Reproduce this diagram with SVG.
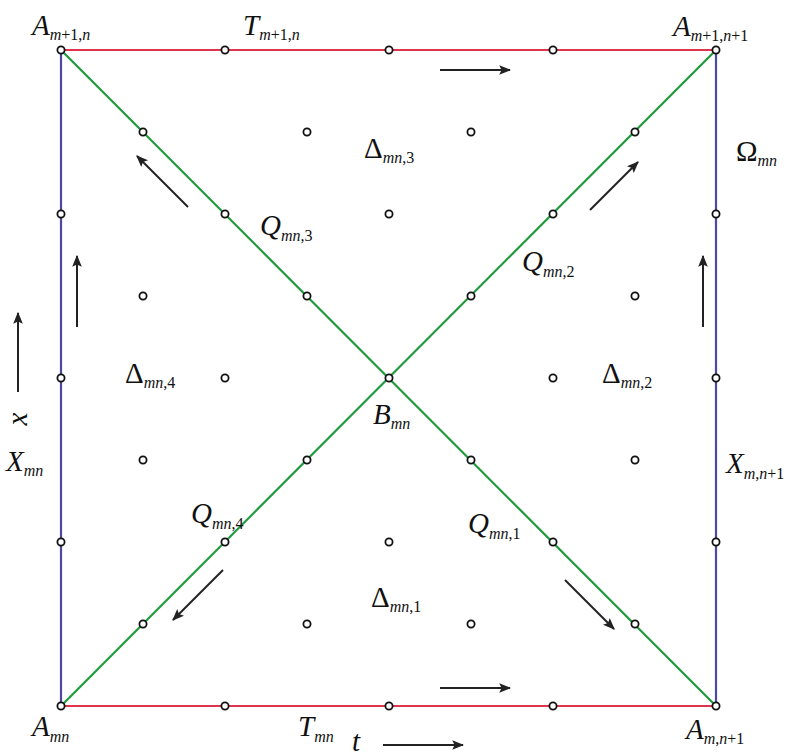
<svg xmlns="http://www.w3.org/2000/svg" width="796" height="756" viewBox="0 0 796 756">
<style>
.red{stroke:#e0344e;stroke-width:2.2;fill:none}
.blue{stroke:#4a4aa0;stroke-width:2.2;fill:none}
.green{stroke:#1f9a3c;stroke-width:2.2;fill:none}
.arr{stroke:#222;stroke-width:2;fill:none;marker-end:url(#ah)}
.pt{fill:#fff;stroke:#111;stroke-width:1.8}
.lb{font-family:"Liberation Serif",serif;font-style:italic;font-size:29px;fill:#111}
.up{font-style:normal}
.sb{font-size:16px}
</style>
<defs>
<marker id="ah" viewBox="0 0 10 10" refX="9" refY="5" markerWidth="6" markerHeight="6" orient="auto" markerUnits="strokeWidth">
<path d="M0,1 L10,5 L0,9 L2,5 z" fill="#222"/>
</marker>
</defs>
<rect width="796" height="756" fill="#fff"/>
<g id="connectors">
<line class="red" x1="61" y1="50" x2="716" y2="50"/>
<line class="red" x1="61" y1="706" x2="716" y2="706"/>
<line class="blue" x1="61" y1="50" x2="61" y2="706"/>
<line class="blue" x1="716" y1="50" x2="716" y2="706"/>
<line class="green" x1="61" y1="50" x2="716" y2="706"/>
<line class="green" x1="716" y1="50" x2="61" y2="706"/>
<line class="arr" x1="440" y1="70" x2="510" y2="70"/>
<line class="arr" x1="440" y1="688" x2="510" y2="688"/>
<line class="arr" x1="383" y1="745" x2="463" y2="745"/>
<line class="arr" x1="18" y1="392" x2="18" y2="313"/>
<line class="arr" x1="77" y1="327" x2="77" y2="256"/>
<line class="arr" x1="703" y1="327" x2="703" y2="256"/>
<line class="arr" x1="188" y1="207" x2="137" y2="156"/>
<line class="arr" x1="590" y1="210" x2="638" y2="162"/>
<line class="arr" x1="223" y1="570" x2="173" y2="620"/>
<line class="arr" x1="565" y1="580" x2="614" y2="629"/>
</g>
<g id="points">
<circle class="pt" cx="61" cy="50" r="3.6"/>
<circle class="pt" cx="225" cy="50" r="3.6"/>
<circle class="pt" cx="389" cy="50" r="3.6"/>
<circle class="pt" cx="553" cy="50" r="3.6"/>
<circle class="pt" cx="716" cy="50" r="3.6"/>
<circle class="pt" cx="61" cy="706" r="3.6"/>
<circle class="pt" cx="225" cy="706" r="3.6"/>
<circle class="pt" cx="389" cy="706" r="3.6"/>
<circle class="pt" cx="553" cy="706" r="3.6"/>
<circle class="pt" cx="716" cy="706" r="3.6"/>
<circle class="pt" cx="61" cy="214" r="3.6"/>
<circle class="pt" cx="61" cy="378" r="3.6"/>
<circle class="pt" cx="61" cy="542" r="3.6"/>
<circle class="pt" cx="716" cy="214" r="3.6"/>
<circle class="pt" cx="716" cy="378" r="3.6"/>
<circle class="pt" cx="716" cy="542" r="3.6"/>
<circle class="pt" cx="143" cy="132" r="3.6"/>
<circle class="pt" cx="225" cy="214" r="3.6"/>
<circle class="pt" cx="307" cy="296" r="3.6"/>
<circle class="pt" cx="389" cy="378" r="3.6"/>
<circle class="pt" cx="471" cy="460" r="3.6"/>
<circle class="pt" cx="553" cy="542" r="3.6"/>
<circle class="pt" cx="635" cy="624" r="3.6"/>
<circle class="pt" cx="635" cy="132" r="3.6"/>
<circle class="pt" cx="553" cy="214" r="3.6"/>
<circle class="pt" cx="471" cy="296" r="3.6"/>
<circle class="pt" cx="307" cy="460" r="3.6"/>
<circle class="pt" cx="225" cy="542" r="3.6"/>
<circle class="pt" cx="143" cy="624" r="3.6"/>
<circle class="pt" cx="307" cy="132" r="3.6"/>
<circle class="pt" cx="471" cy="132" r="3.6"/>
<circle class="pt" cx="389" cy="214" r="3.6"/>
<circle class="pt" cx="143" cy="296" r="3.6"/>
<circle class="pt" cx="225" cy="378" r="3.6"/>
<circle class="pt" cx="143" cy="460" r="3.6"/>
<circle class="pt" cx="635" cy="296" r="3.6"/>
<circle class="pt" cx="553" cy="378" r="3.6"/>
<circle class="pt" cx="635" cy="460" r="3.6"/>
<circle class="pt" cx="389" cy="542" r="3.6"/>
<circle class="pt" cx="307" cy="624" r="3.6"/>
<circle class="pt" cx="471" cy="624" r="3.6"/>
</g>
<g id="labels">
<text class="lb" x="32" y="35">A<tspan class="sb" dy="5">m<tspan class="up">+1,</tspan>n</tspan></text>
<text class="lb" x="243" y="35">T<tspan class="sb" dy="5">m<tspan class="up">+1,</tspan>n</tspan></text>
<text class="lb" x="673" y="36">A<tspan class="sb" dy="5">m<tspan class="up">+1,</tspan>n<tspan class="up">+1</tspan></tspan></text>
<text class="lb up" x="736" y="161">Ω<tspan class="sb" dy="5" style="font-style:italic">mn</tspan></text>
<text class="lb up" x="364" y="158">Δ<tspan class="sb" dy="5" style="font-style:italic">mn<tspan class="up">,3</tspan></tspan></text>
<text class="lb" x="260" y="235">Q<tspan class="sb" dy="6">mn<tspan class="up">,3</tspan></tspan></text>
<text class="lb" x="522" y="271">Q<tspan class="sb" dy="6">mn<tspan class="up">,2</tspan></tspan></text>
<text class="lb up" x="125" y="383">Δ<tspan class="sb" dy="5" style="font-style:italic">mn<tspan class="up">,4</tspan></tspan></text>
<text class="lb up" x="602" y="383">Δ<tspan class="sb" dy="5" style="font-style:italic">mn<tspan class="up">,2</tspan></tspan></text>
<text class="lb" x="373" y="424">B<tspan class="sb" dy="5">mn</tspan></text>
<text class="lb" x="6" y="471">X<tspan class="sb" dy="5">mn</tspan></text>
<text class="lb" x="726" y="473">X<tspan class="sb" dy="6">m<tspan class="up">,</tspan>n<tspan class="up">+1</tspan></tspan></text>
<text class="lb" x="191" y="523">Q<tspan class="sb" dy="6">mn<tspan class="up">,4</tspan></tspan></text>
<text class="lb" x="468" y="533">Q<tspan class="sb" dy="6">mn<tspan class="up">,1</tspan></tspan></text>
<text class="lb up" x="371" y="607">Δ<tspan class="sb" dy="5" style="font-style:italic">mn<tspan class="up">,1</tspan></tspan></text>
<text class="lb" x="32" y="736">A<tspan class="sb" dy="6">mn</tspan></text>
<text class="lb" x="298" y="736">T<tspan class="sb" dy="6">mn</tspan></text>
<text class="lb" x="352" y="751">t</text>
<text class="lb" x="686" y="739">A<tspan class="sb" dy="5">m<tspan class="up">,</tspan>n<tspan class="up">+1</tspan></tspan></text>
<text class="lb" transform="translate(27,419) rotate(-90)" text-anchor="middle">x</text>
</g>
</svg>
